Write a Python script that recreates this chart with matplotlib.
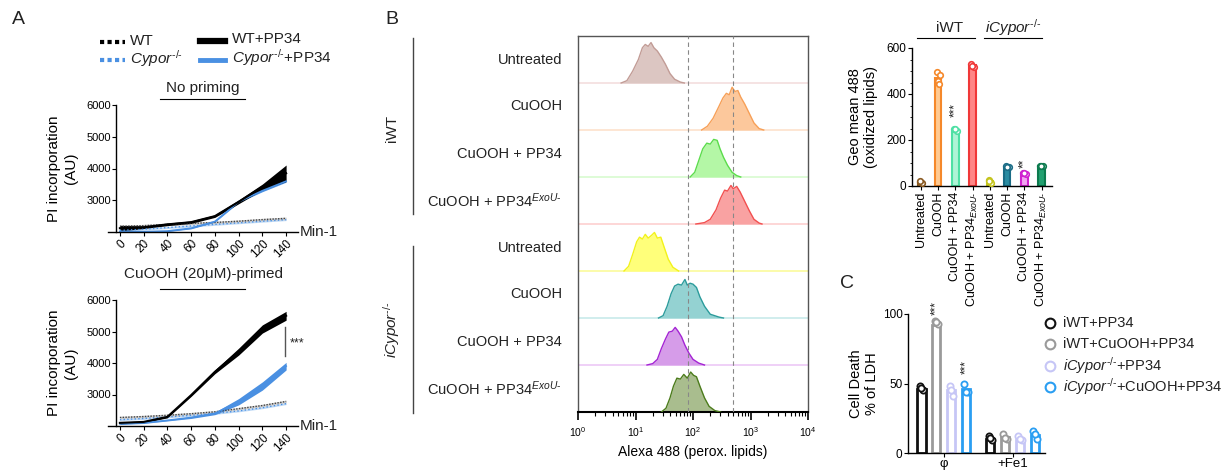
import numpy as np
import matplotlib
matplotlib.use("Agg")
import matplotlib.pyplot as plt
from matplotlib.lines import Line2D
from matplotlib.transforms import blended_transform_factory

plt.rcParams['font.family'] = ['Liberation Sans', 'DejaVu Sans']
plt.rcParams['mathtext.fontset'] = 'custom'
plt.rcParams['mathtext.rm'] = 'Liberation Sans'
plt.rcParams['mathtext.it'] = 'Liberation Sans:italic'
plt.rcParams['axes.linewidth'] = 1.0
plt.rcParams['text.color'] = '#222222'

W, H = 1224, 470
KO = "^{\u2010/\u2010}"  # small hyphens for the -/- superscript

# ------------------------------
# Panel A data (PI incorporation, AU)
# ------------------------------
minutes = [0, 20, 40, 60, 80, 100, 120, 140]

np_wt = [2180, 2200, 2240, 2270, 2300, 2340, 2390, 2430]
np_wt_sem = [40, 40, 40, 40, 40, 40, 40, 40]
np_cypor = [2050, 2090, 2140, 2190, 2240, 2290, 2340, 2390]
np_cypor_sem = [30, 30, 30, 30, 30, 30, 30, 30]
np_wt_pp34 = [2120, 2150, 2240, 2310, 2500, 2950, 3420, 3850]
np_wt_pp34_sem = [90, 40, 40, 40, 40, 60, 90, 260]
np_cypor_pp34 = [2020, 2010, 2030, 2120, 2330, 2950, 3300, 3600]
np_cypor_pp34_sem = [30, 20, 20, 20, 20, 20, 30, 30]

pr_wt = [2270, 2300, 2340, 2390, 2450, 2550, 2650, 2780]
pr_wt_sem = [40, 40, 40, 40, 40, 40, 40, 40]
pr_cypor = [2200, 2240, 2290, 2340, 2400, 2480, 2580, 2710]
pr_cypor_sem = [30, 30, 30, 30, 30, 30, 30, 30]
pr_wt_pp34 = [2100, 2130, 2290, 2980, 3720, 4360, 5080, 5500]
pr_wt_pp34_sem = [30, 30, 30, 40, 60, 110, 130, 140]
pr_cypor_pp34 = [2070, 2100, 2180, 2270, 2400, 2770, 3270, 3900]
pr_cypor_pp34_sem = [20, 20, 20, 30, 40, 100, 130, 120]

# ------------------------------
# Panel B histograms (log10 intensity, relative count)
# ------------------------------
h1_x = [0.75, 0.85, 0.95, 1.05, 1.12, 1.17, 1.22, 1.27, 1.32, 1.38, 1.45, 1.52, 1.60, 1.68, 1.78, 1.85]
h1_y = [0, 0.05, 0.25, 0.50, 0.75, 0.82, 0.78, 0.86, 0.75, 0.68, 0.55, 0.40, 0.20, 0.08, 0.02, 0]
h2_x = [2.15, 2.25, 2.35, 2.45, 2.52, 2.58, 2.63, 2.68, 2.73, 2.78, 2.83, 2.90, 2.98, 3.06, 3.15, 3.23]
h2_y = [0, 0.08, 0.25, 0.50, 0.68, 0.78, 0.75, 0.91, 0.82, 0.84, 0.70, 0.55, 0.35, 0.15, 0.03, 0]
h3_x = [1.95, 2.03, 2.10, 2.17, 2.24, 2.30, 2.36, 2.42, 2.47, 2.53, 2.60, 2.68, 2.76, 2.83]
h3_y = [0, 0.10, 0.35, 0.60, 0.72, 0.70, 0.80, 0.78, 0.60, 0.42, 0.25, 0.10, 0.03, 0]
h4_x = [2.05, 2.20, 2.30, 2.40, 2.48, 2.55, 2.60, 2.66, 2.70, 2.76, 2.82, 2.90, 2.98, 3.06, 3.15, 3.20]
h4_y = [0, 0.03, 0.10, 0.30, 0.55, 0.72, 0.70, 0.82, 0.75, 0.80, 0.68, 0.48, 0.28, 0.10, 0.02, 0]
h5_x = [0.80, 0.88, 0.95, 1.02, 1.07, 1.12, 1.17, 1.22, 1.28, 1.33, 1.38, 1.44, 1.50, 1.57, 1.65, 1.75]
h5_y = [0, 0.10, 0.35, 0.62, 0.72, 0.68, 0.78, 0.70, 0.76, 0.82, 0.70, 0.72, 0.50, 0.25, 0.08, 0]
h6_x = [1.40, 1.48, 1.55, 1.62, 1.68, 1.74, 1.80, 1.86, 1.90, 1.95, 2.00, 2.06, 2.12, 2.20, 2.30, 2.45, 2.53]
h6_y = [0, 0.05, 0.25, 0.52, 0.68, 0.72, 0.70, 0.82, 0.70, 0.74, 0.72, 0.65, 0.45, 0.25, 0.08, 0.02, 0]
h7_x = [1.20, 1.30, 1.38, 1.45, 1.52, 1.58, 1.64, 1.69, 1.74, 1.80, 1.86, 1.93, 2.00, 2.10, 2.20]
h7_y = [0, 0.03, 0.12, 0.35, 0.55, 0.70, 0.72, 0.80, 0.72, 0.60, 0.42, 0.25, 0.12, 0.04, 0]
h8_x = [1.45, 1.53, 1.60, 1.66, 1.72, 1.78, 1.84, 1.90, 1.96, 2.01, 2.06, 2.12, 2.20, 2.28, 2.38, 2.48]
h8_y = [0, 0.08, 0.30, 0.55, 0.72, 0.70, 0.80, 0.72, 0.85, 0.78, 0.75, 0.55, 0.30, 0.12, 0.03, 0]

hist_labels = ["Untreated", "CuOOH", "CuOOH + PP34", "CuOOH + PP34$^{\\mathit{ExoU}\u2010}$"] * 2
hist_fill = ["#dcc6c2", "#fcc89c", "#b4f7a6", "#f9a2a2", "#ffff7a", "#94d2d2", "#d69ce9", "#a9bd8e"]
hist_edge = ["#c29c96", "#f7a058", "#5cdc4c", "#f25050", "#f2f21c", "#2c9c9c", "#a424d4", "#4c7c1c"]
hist_base = ["#f4dede", "#fde2cc", "#d8fbd0", "#fdd0d0", "#fbfb9c", "#c8eaea", "#ecc8f6", "#cfdcc0"]
gate_lines = [83, 500]

# ------------------------------
# Panel B bar chart (geo mean 488)
# ------------------------------
geo_labels = ["Untreated", "CuOOH", "CuOOH + PP34", "CuOOH + PP34$_{\\mathit{ExoU}\u2010}$"] * 2
geo_means = [17, 470, 245, 524, 20, 84, 55, 86]
geo_points = [[18, 14, 20], [495, 483, 455, 442], [250, 240, 246], [532, 518, 522],
              [26, 14, 20], [86, 84, 83], [58, 52, 55], [88, 86, 85]]
geo_edge = ["#8a5a22", "#f5882a", "#4ee0a4", "#f03838", "#c4c41c", "#1a6c86", "#d020d0", "#0c7a4e"]
geo_fill = ["#a0703a", "#ffca92", "#aef4d6", "#ff8686", "#e6e66e", "#2a8ca2", "#f2a4f2", "#22a070"]

# ------------------------------
# Panel C data (cell death, % of LDH)
# ------------------------------
ldh_groups = ["φ", "+Fe1"]
ldh_series = ["iWT+PP34", "iWT+CuOOH+PP34",
              "$\\mathit{iCypor}" + KO + "$+PP34", "$\\mathit{iCypor}" + KO + "$+CuOOH+PP34"]
ldh_means = [[46, 10], [92, 11.5], [45, 9.6], [46, 13]]
ldh_points = [[[48, 45, 47], [12, 9, 11]],
              [[95, 93, 94], [14, 10, 11]],
              [[48, 41, 45], [12, 9, 10]],
              [[50, 44, 44], [16, 10, 14]]]
ldh_colors = ["#111111", "#9a9a9a", "#c6c6f6", "#2a9ef2"]


def px_axes(fig, x0, y0, x1, y1, **kw):
    return fig.add_axes([x0 / W, 1 - y1 / H, (x1 - x0) / W, (y1 - y0) / H], **kw)


fig = plt.figure(figsize=(W / 100, H / 100), dpi=100)

ann = px_axes(fig, 0, 0, W, H, zorder=20)
ann.set_xlim(0, W)
ann.set_ylim(H, 0)
ann.axis("off")

# panel letters
ann.text(18, 20, "A", fontsize=14, ha="center", va="center")
ann.text(392, 20, "B", fontsize=14, ha="center", va="center")
ann.text(847, 284, "C", fontsize=14, ha="center", va="center")

# ------------------------------
# Panel A
# ------------------------------
blue = "#4a90e2"
ann.add_line(Line2D([100, 125], [42, 42], color="black", lw=3, ls=(0, (1, 0.8))))
ann.add_line(Line2D([100, 125], [60, 60], color=blue, lw=3, ls=(0, (1, 0.8))))
ann.add_line(Line2D([200, 225], [41, 41], color="black", lw=4.5))
ann.add_line(Line2D([200, 225], [60, 60], color=blue, lw=3.5))
ann.text(130, 41, "WT", fontsize=11, va="center")
ann.text(130, 59, "$\\mathit{Cypor}" + KO + "$", fontsize=11, va="center")
ann.text(232, 39, "WT+PP34", fontsize=11, va="center")
ann.text(232, 58, "$\\mathit{Cypor}" + KO + "$+PP34", fontsize=11, va="center")


def draw_kinetics(ax, wt, wt_s, cy, cy_s, wtp, wtp_s, cyp, cyp_s):
    t = np.array(minutes)
    wt, wt_s, cy, cy_s = map(np.array, (wt, wt_s, cy, cy_s))
    wtp, wtp_s, cyp, cyp_s = map(np.array, (wtp, wtp_s, cyp, cyp_s))
    ax.fill_between(t, cy - cy_s, cy + cy_s, color="#bcd8f6", lw=0)
    ax.plot(t, cy, color=blue, lw=1, ls=":")
    ax.fill_between(t, wt - wt_s, wt + wt_s, color="#d0d0d0", lw=0)
    ax.plot(t, wt, color="#444444", lw=1, ls=(0, (1, 1)))
    ax.fill_between(t, cyp - cyp_s, cyp + cyp_s, color=blue, lw=0)
    ax.plot(t, cyp, color=blue, lw=1.2)
    ax.fill_between(t, wtp - wtp_s, wtp + wtp_s, color="black", lw=0)
    ax.plot(t, wtp, color="black", lw=1.5)
    ax.set_xlim(-10, 150)
    ax.set_ylim(2000, 6000)
    ax.spines["left"].set_position(("data", -3))
    ax.spines["left"].set_bounds(2000, 6000)
    ax.spines["top"].set_visible(False)
    ax.spines["right"].set_visible(False)
    ax.set_yticks([3000, 4000, 5000, 6000])
    ax.set_xticks(minutes)
    ax.set_xticklabels([str(m) for m in minutes], rotation=45, ha="right",
                       rotation_mode="anchor", fontsize=8.5)
    ax.tick_params(axis="y", labelsize=8, length=3, pad=1)
    ax.tick_params(axis="x", length=3, pad=1)
    ax.set_ylabel("PI incorporation\n(AU)", fontsize=11)
    ax.yaxis.set_label_coords(-0.16, 0.5)


axA1 = px_axes(fig, 108, 105, 298, 232)
draw_kinetics(axA1, np_wt, np_wt_sem, np_cypor, np_cypor_sem,
              np_wt_pp34, np_wt_pp34_sem, np_cypor_pp34, np_cypor_pp34_sem)
axA2 = px_axes(fig, 108, 300, 298, 426)
draw_kinetics(axA2, pr_wt, pr_wt_sem, pr_cypor, pr_cypor_sem,
              pr_wt_pp34, pr_wt_pp34_sem, pr_cypor_pp34, pr_cypor_pp34_sem)

ann.text(203, 88, "No priming", fontsize=11, ha="center", va="center")
ann.add_line(Line2D([160, 245], [99, 99], color="black", lw=0.8))
ann.text(203, 274, "CuOOH (20μM)-primed", fontsize=11, ha="center", va="center")
ann.add_line(Line2D([160, 245], [289, 289], color="black", lw=0.8))
ann.text(300, 232, "Min-1", fontsize=11, va="center")
ann.text(300, 426, "Min-1", fontsize=11, va="center")
ann.add_line(Line2D([285, 285], [327, 356], color="#555555", lw=1))
ann.text(290, 343, "***", fontsize=9, va="center")

# ------------------------------
# Panel B histograms
# ------------------------------
axH = px_axes(fig, 578, 36, 808, 412)
hist_x = [h1_x, h2_x, h3_x, h4_x, h5_x, h6_x, h7_x, h8_x]
hist_y = [h1_y, h2_y, h3_y, h4_y, h5_y, h6_y, h7_y, h8_y]
for r in range(8):
    base = 7 - r
    xs = 10 ** np.array(hist_x[r])
    ys = base + np.array(hist_y[r])
    axH.axhline(base, color=hist_base[r], lw=1.2, zorder=1)
    axH.fill_between(xs, base, ys, color=hist_fill[r], lw=0, zorder=2)
    axH.plot(xs, ys, color=hist_edge[r], lw=1, zorder=3)
for g in gate_lines:
    axH.axvline(g, color="#888888", lw=0.8, ls=(0, (4, 3)), zorder=4)
axH.set_xscale("log")
axH.set_xlim(1, 1e4)
axH.set_ylim(0, 8)
axH.set_yticks([])
for s in ["top", "left", "right"]:
    axH.spines[s].set_color("#555555")
axH.spines["bottom"].set_linewidth(1.5)
axH.tick_params(axis="x", which="major", length=6, labelsize=7.5, width=1.2)
axH.tick_params(axis="x", which="minor", length=3, width=0.8)
axH.set_xlabel("Alexa 488 (perox. lipids)", fontsize=10, labelpad=4)
trH = blended_transform_factory(axH.transAxes, axH.transData)
for r, lab in enumerate(hist_labels):
    axH.text(-0.07, 7 - r + 0.5, lab, transform=trH, fontsize=10.5, ha="right", va="center")

ann.add_line(Line2D([413, 413], [38, 214], color="#444444", lw=1))
ann.add_line(Line2D([413, 413], [246, 413], color="#444444", lw=1))
ann.text(392, 128, "iWT", fontsize=11, rotation=90, ha="center", va="center")
ann.text(392, 330, "$\\mathit{iCypor}" + KO + "$", fontsize=11, rotation=90, ha="center", va="center")

# ------------------------------
# Panel B bar chart
# ------------------------------
axG = px_axes(fig, 912, 48, 1052, 186)
xg = np.arange(len(geo_means))
axG.bar(xg, geo_means, width=0.38, color=geo_fill, edgecolor=geo_edge, lw=1.5, zorder=2)
offs = [-0.08, 0.08, -0.03, 0.05, 0.0]
for i, pts in enumerate(geo_points):
    axG.scatter(xg[i] + np.array(offs[:len(pts)]), pts, s=16, facecolor="white",
                edgecolor=geo_edge[i], lw=1.2, zorder=3)
axG.text(2, 330, "***", rotation=90, fontsize=8.5, ha="center", va="center")
axG.text(6, 100, "**", rotation=90, fontsize=8.5, ha="center", va="center")
axG.set_xlim(-0.52, 7.6)
axG.set_ylim(0, 600)
axG.set_yticks([0, 200, 400, 600])
axG.set_yticks(np.arange(0, 601, 50), minor=True)
axG.spines["top"].set_visible(False)
axG.spines["right"].set_visible(False)
axG.set_xticks(xg)
axG.set_xticklabels(geo_labels, rotation=90, fontsize=9)
axG.tick_params(axis="y", labelsize=8.5, length=3, pad=1)
axG.tick_params(axis="y", which="minor", length=1.5)
axG.tick_params(axis="x", length=3, pad=1)
axG.set_ylabel("Geo mean 488\n(oxidized lipids)", fontsize=10.5)
axG.yaxis.set_label_coords(-0.24, 0.5)
ann.text(950, 28, "iWT", fontsize=11, ha="center", va="center")
ann.add_line(Line2D([917, 975], [38, 38], color="black", lw=0.8))
ann.text(1013, 28, "$\\mathit{iCypor}" + KO + "$", fontsize=11, ha="center", va="center")
ann.add_line(Line2D([984, 1042], [38, 38], color="black", lw=0.8))

# ------------------------------
# Panel C
# ------------------------------
axC = px_axes(fig, 908, 314, 1045, 453)
bar_off = [-0.325, -0.108, 0.108, 0.325]
for k in range(4):
    xs = np.arange(len(ldh_groups)) + bar_off[k]
    axC.bar(xs, ldh_means[k], width=0.12, color="white", edgecolor=ldh_colors[k], lw=2, zorder=2)
    for j in range(len(ldh_groups)):
        pts = ldh_points[k][j]
        axC.scatter(xs[j] + np.array([-0.025, 0.025, 0.0]), pts, s=20, facecolor="white",
                    edgecolor=ldh_colors[k], lw=1.3, zorder=3)
axC.text(-0.108, 104, "***", rotation=90, fontsize=8.5, ha="center", va="center")
axC.text(0.325, 62, "***", rotation=90, fontsize=8.5, ha="center", va="center")
axC.set_xlim(-0.52, 1.47)
axC.set_ylim(0, 100)
axC.set_yticks([0, 50, 100])
axC.spines["top"].set_visible(False)
axC.spines["right"].set_visible(False)
axC.set_xticks([0, 1])
axC.set_xticklabels(ldh_groups, fontsize=9.5)
axC.tick_params(axis="y", labelsize=8.5, length=3, pad=1)
axC.tick_params(axis="x", length=3, pad=0.5)
axC.set_ylabel("Cell Death\n% of LDH", fontsize=10.5)
axC.yaxis.set_label_coords(-0.21, 0.5)

leg_y = [323, 344, 366, 387]
for k in range(4):
    ann.plot([1050], [leg_y[k]], marker="o", ms=7, mfc="white", mec=ldh_colors[k], mew=1.5)
    ann.text(1063, leg_y[k], ldh_series[k], fontsize=10.5, va="center")

fig.savefig("out.png", dpi=100)
